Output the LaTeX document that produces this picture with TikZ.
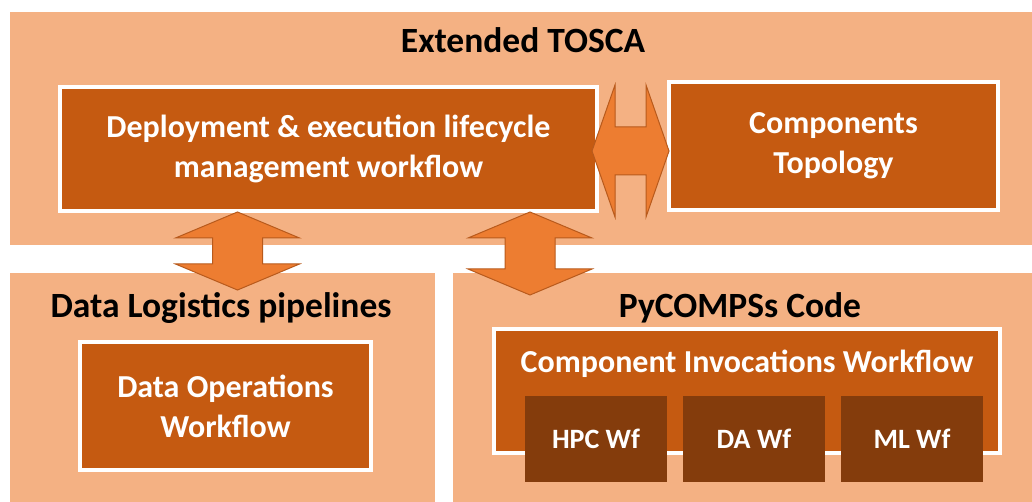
\documentclass[tikz,border=0pt]{standalone}
\usepackage{fontspec}
\setmainfont{Carlito}
\usetikzlibrary{positioning}
\definecolor{panelfill}{HTML}{F4B183}
\definecolor{boxfill}{HTML}{C55A11}
\definecolor{subfill}{HTML}{843C0C}
\definecolor{arrowfill}{HTML}{ED7D31}
\definecolor{arrowline}{HTML}{B85A1C}
\tikzset{%
panel/.style={rectangle, fill=panelfill, inner sep=0pt, outer sep=0pt},
title/.style={font=\fontsize{35.5}{40}\selectfont\bfseries, text=black, inner sep=0pt},
wfbox/.style={
    rectangle, draw=white, line width=4pt, fill=boxfill,
    text=white, align=center,
    font=\fontsize{32}{40}\selectfont\bfseries,
    inner sep=0pt, outer sep=0pt
  },
subbox/.style={
    rectangle, fill=subfill, text=white,
    font=\fontsize{28}{32}\selectfont\bfseries,
    minimum width=142pt, minimum height=86pt,
    inner sep=0pt, outer sep=0pt
  },
blockarrow/.style={fill=arrowfill, draw=arrowline, line width=1pt, line join=miter}
}
% up/down block arrow: top tip, bottom tip
\newcommand{\vblockarrow}[2]{%
  \draw[blockarrow] (#1) -- ++(62,26) -- ++(-37,0) -- ([shift={(25,-26)}]#2) -- ++(37,0)
    -- (#2) -- ++(-62,-26) -- ++(37,0) -- ([shift={(-25,26)}]#1) -- ++(-37,0) -- cycle;}
% left/right block arrow: left tip, right tip
\newcommand{\hblockarrow}[2]{%
  \draw[blockarrow] (#1) -- ++(23,-66) -- ++(0,42) -- ([shift={(-23,-24)}]#2) -- ++(0,-42)
    -- (#2) -- ++(-23,66) -- ++(0,-42) -- ([shift={(23,24)}]#1) -- ++(0,42) -- cycle;}

\begin{document}
\begin{tikzpicture}[x=1pt, y=-1pt]
\useasboundingbox (0,0) rectangle (1032,502);

\node[panel, minimum width=1022pt, minimum height=233pt] (tosca) at (521,128.5) {};
\node[panel, minimum width=425pt, minimum height=229pt] (dlp) at (222.5,387.5) {};
\node[panel, minimum width=579pt, minimum height=229pt] (pyc) at (742.5,387.5) {};

\node[title, anchor=base] (tosca-title) at (523,53) {Extended TOSCA};
\node[title, anchor=base] (dlp-title) at (221,317) {Data Logistics pipelines};
\node[title, anchor=base] (pyc-title) at (740,317) {PyCOMPSs Code};

\node[wfbox, minimum width=537pt, minimum height=124pt] (deploy) at (328.5,149)
    {Deployment \& execution lifecycle\\management workflow};
\node[wfbox, minimum width=329pt, minimum height=128pt] (comp) at (833.5,146)
    {Components\\Topology};
\node[wfbox, minimum width=291pt, minimum height=128pt] (dataop) at (225.5,406)
    {Data Operations\\Workflow};
\node[wfbox, minimum width=506pt, minimum height=124pt] (cinv) at (747,391) {};
\node[wfbox, draw=none, fill=none, anchor=base] (cinv-title) at (747,372)
    {Component Invocations Workflow};

\node[subbox] (hpc) at (596,439) {HPC Wf};
\node[subbox, right=16pt of hpc] (da) {DA Wf};
\node[subbox, right=16pt of da] (ml) {ML Wf};

\coordinate (ha-left) at ([xshift=-5pt, yshift=-2pt]deploy.east);
\coordinate (ha-right) at (comp.west |- ha-left);
\hblockarrow{ha-left}{ha-right}

\coordinate (la-top) at ([xshift=-91pt, yshift=-1pt]deploy.south);
\path (la-top |- dlp.north) ++(0,17) coordinate (la-bot);
\vblockarrow{la-top}{la-bot}

\coordinate (ra-top) at ([xshift=201.5pt, yshift=-1pt]deploy.south);
\path (ra-top |- pyc.north) ++(0,22) coordinate (ra-bot);
\vblockarrow{ra-top}{ra-bot}
\end{tikzpicture}
\end{document}
